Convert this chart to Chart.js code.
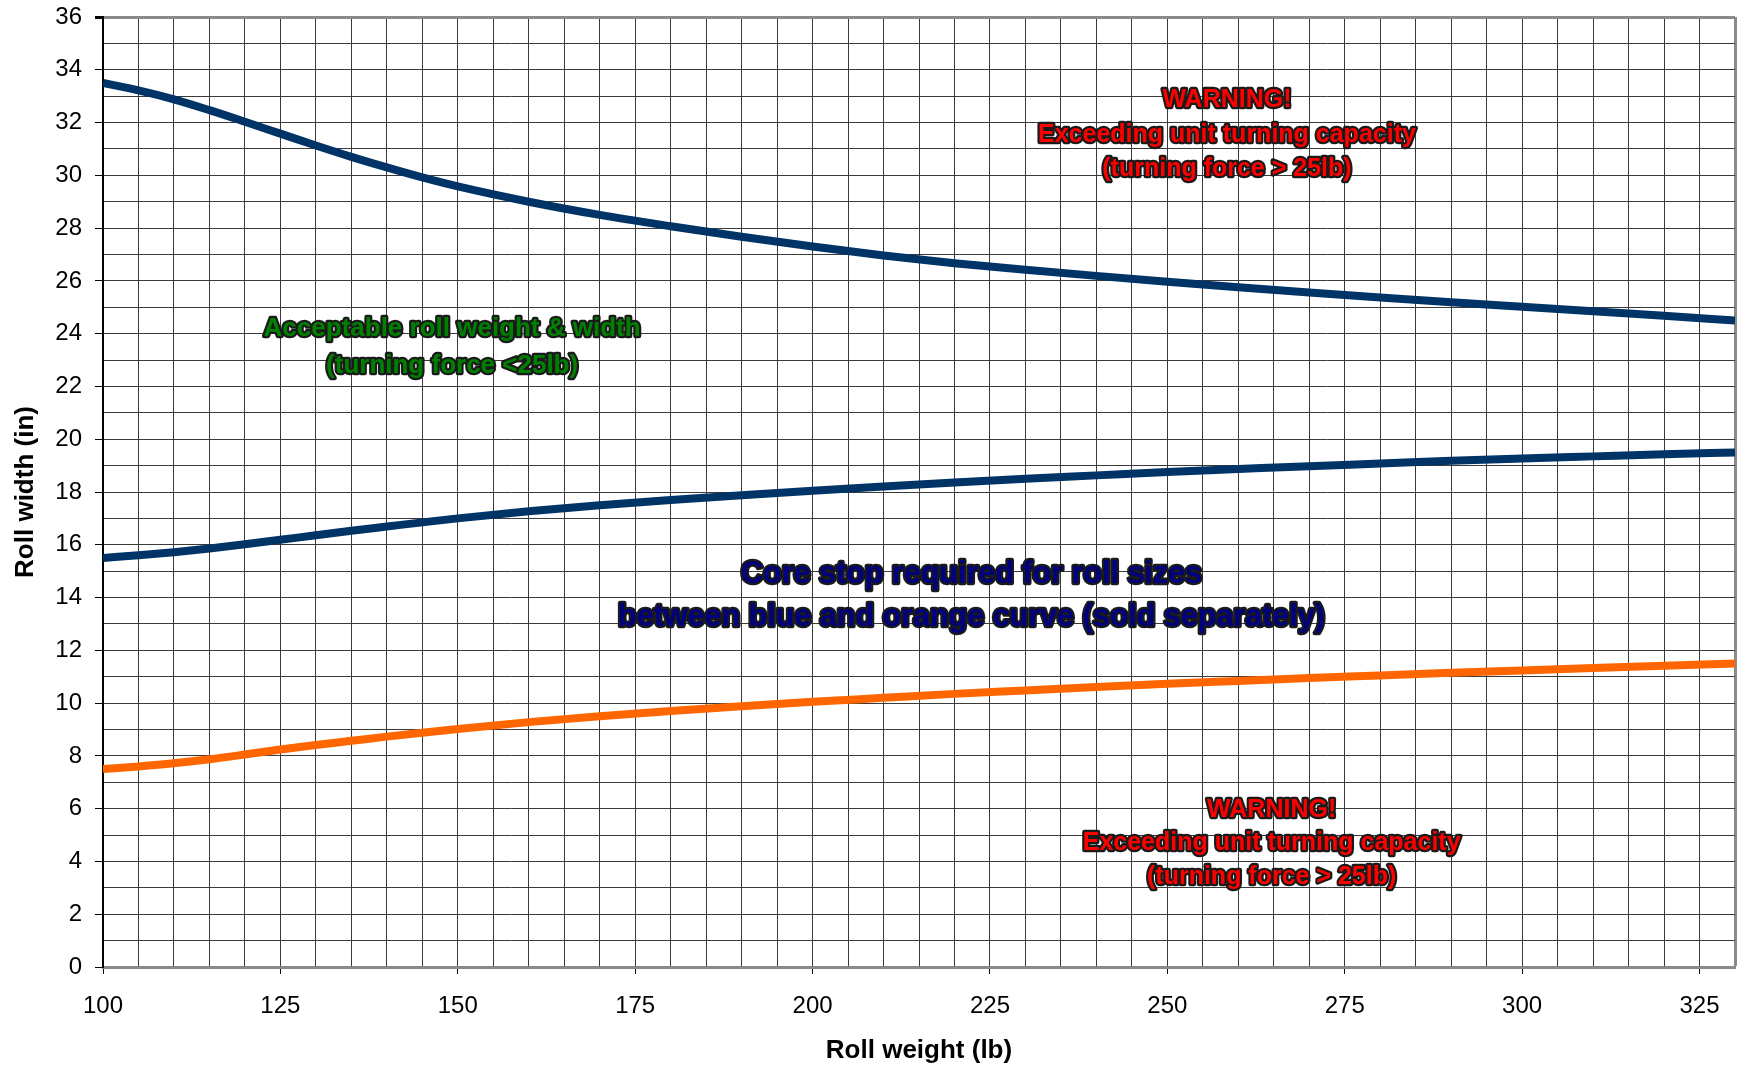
<!DOCTYPE html>
<html>
<head>
<meta charset="utf-8">
<script src="https://cdn.jsdelivr.net/npm/chart.js@4"></script>
<style>
  html, body { margin: 0; padding: 0; background: #fff; }
  #wrap { width: 1739px; height: 1066px; position: relative; }
</style>
</head>
<body>
<div id="wrap"><canvas id="c" width="1739" height="1066"></canvas></div>
<script>
// ---- data ----
const rollWeights = [100,105,110,115,120,125,130,135,140,145,150,160,170,180,190,200,210,220,230,240,250,260,270,280,290,300,310,320,330];
const upperBlue   = [33.5,33.22,32.88,32.47,32.03,31.58,31.13,30.7,30.3,29.92,29.58,29.0,28.5,28.07,27.67,27.3,26.96,26.67,26.42,26.19,25.97,25.76,25.56,25.37,25.19,25.02,24.85,24.68,24.5];
const lowerBlue   = [15.5,15.6,15.72,15.86,16.02,16.19,16.36,16.53,16.69,16.85,17.0,17.27,17.5,17.7,17.88,18.05,18.21,18.36,18.5,18.63,18.76,18.87,18.98,19.08,19.18,19.27,19.35,19.43,19.5];
const orangeCurve = [7.5,7.6,7.72,7.87,8.05,8.24,8.41,8.57,8.73,8.88,9.02,9.28,9.5,9.7,9.88,10.05,10.2,10.35,10.48,10.61,10.73,10.84,10.95,11.05,11.15,11.24,11.33,11.42,11.5];

const xTitle = 'Roll weight (lb)';
const yTitle = 'Roll width (in)';

const warnLines   = ['WARNING!', 'Exceeding unit turning capacity', '(turning force > 25lb)'];
const okLines     = ['Acceptable roll weight & width', '(turning force <25lb)'];
const coreLines   = ['Core stop required for roll sizes', 'between blue and orange curve (sold separately)'];

// annotation anchors (data coordinates: centre x, first-line y)
const notes = [
  { lines: warnLines, x: 258.4, y: 32.85, size: 25, gap: 34.5, fill: '#ff0000' },
  { lines: warnLines, x: 264.7, y: 5.95,  size: 25, gap: 33.5, fill: '#ff0000' },
  { lines: okLines,   x: 149.2, y: 24.17, size: 26, gap: 37,   fill: '#008000' },
  { lines: coreLines, x: 222.4, y: 14.87, size: 30.5, gap: 43, fill: '#000080' }
];

const pts = (ys) => rollWeights.map((x, i) => ({ x: x, y: ys[i] }));

const notePlugin = {
  id: 'notes',
  afterDatasetsDraw(chart) {
    const ctx = chart.ctx;
    const xs = chart.scales.x, ys = chart.scales.y;
    ctx.save();
    notes.forEach(n => {
      const cx = xs.getPixelForValue(n.x);
      const cy = ys.getPixelForValue(n.y);
      ctx.font = 'bold ' + n.size + 'px "Liberation Sans", Arial, sans-serif';
      ctx.textAlign = 'center';
      ctx.textBaseline = 'middle';
      ctx.lineJoin = 'round';
      n.lines.forEach((t, i) => {
        const y = cy + i * n.gap;
        ctx.lineWidth = 4.5;
        ctx.strokeStyle = '#1a1a1a';
        ctx.strokeText(t, cx, y);
        ctx.fillStyle = n.fill;
        ctx.fillText(t, cx, y);
      });
    });
    ctx.restore();
  }
};

const fontFam = '"Liberation Sans", Arial, sans-serif';

new Chart(document.getElementById('c'), {
  type: 'scatter',
  data: {
    datasets: [
      { data: pts(upperBlue),   showLine: true, borderColor: '#003366', borderWidth: 8, pointRadius: 0, cubicInterpolationMode: 'monotone' },
      { data: pts(lowerBlue),   showLine: true, borderColor: '#003366', borderWidth: 8, pointRadius: 0, cubicInterpolationMode: 'monotone' },
      { data: pts(orangeCurve), showLine: true, borderColor: '#ff6600', borderWidth: 8, pointRadius: 0, cubicInterpolationMode: 'monotone' }
    ]
  },
  options: {
    responsive: false,
    animation: false,
    devicePixelRatio: 1,
    layout: { padding: { top: 17, right: 4, left: 0, bottom: 0 } },
    plugins: { legend: { display: false }, tooltip: { enabled: false } },
    scales: {
      x: {
        type: 'linear',
        min: 100, max: 330,
        afterFit: (s) => { s.height = 99; s.paddingLeft = 0; s.paddingRight = 0; },
        ticks: {
          stepSize: 5, autoSkip: false, maxRotation: 0, maxTicksLimit: 1000,
          padding: 18,
          color: '#000',
          font: { family: fontFam, size: 24 },
          callback: (v) => (v % 25 === 0 ? String(v) : '')
        },
        grid: {
          color: (c) => (c.tick && c.tick.value === 330 ? '#8a8a8a' : '#3a3a3a'),
          lineWidth: (c) => (c.tick && c.tick.value === 330 ? 3 : 1),
          tickLength: 7,
          tickColor: (c) => (c.tick && c.tick.value % 25 === 0 ? '#000' : 'rgba(0,0,0,0)')
        },
        border: { display: true, color: '#8a8a8a', width: 3 },
        title: {
          display: true, text: xTitle, color: '#000',
          font: { family: fontFam, size: 26, weight: 'bold' },
          padding: { top: 0, bottom: 0 }
        }
      },
      y: {
        type: 'linear',
        min: 0, max: 36,
        afterFit: (s) => { s.width = 103; s.paddingTop = 0; s.paddingBottom = 0; },
        ticks: {
          stepSize: 1, autoSkip: false, maxTicksLimit: 1000,
          padding: 13,
          color: '#000',
          font: { family: fontFam, size: 24 },
          callback: (v) => (v % 2 === 0 ? String(v) : '')
        },
        grid: {
          color: (c) => (c.tick && c.tick.value === 36 ? '#8a8a8a' : '#3a3a3a'),
          lineWidth: (c) => (c.tick && c.tick.value === 36 ? 3 : 1),
          tickLength: 8,
          tickColor: (c) => (c.tick && c.tick.value % 2 === 0 ? '#000' : 'rgba(0,0,0,0)')
        },
        border: { display: true, color: '#000', width: 2 },
        title: {
          display: true, text: yTitle, color: '#000',
          font: { family: fontFam, size: 26, weight: 'bold' },
          padding: { top: 10, bottom: 0 }
        }
      }
    }
  },
  plugins: [notePlugin]
});
</script>
</body>
</html>
